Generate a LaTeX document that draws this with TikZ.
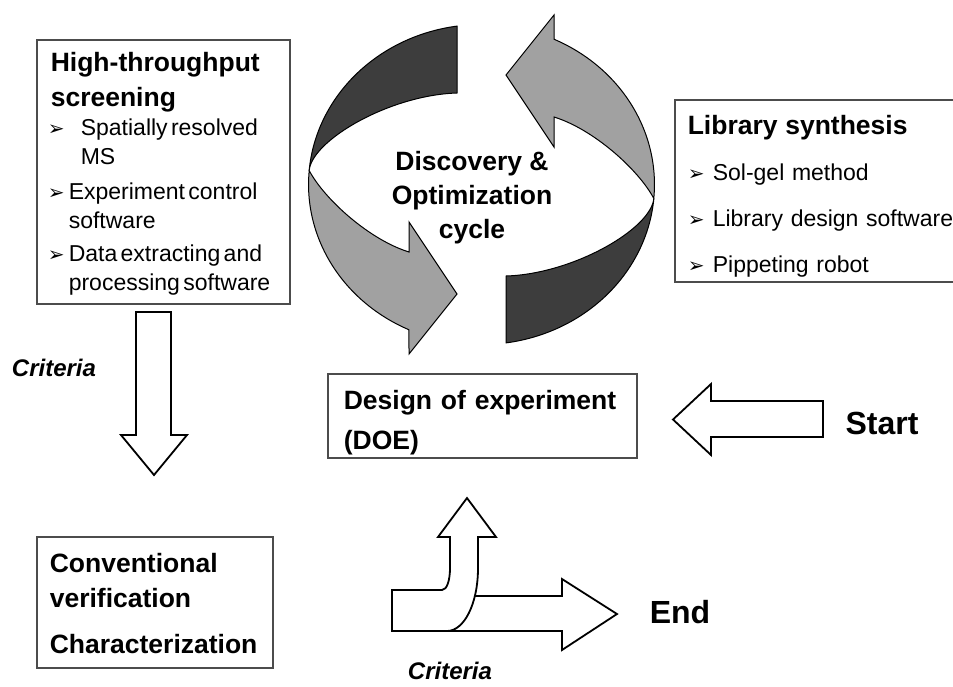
\documentclass[tikz,border=0pt]{standalone}
\usepackage{fontspec}
\setmainfont{Liberation Sans}
\newfontfamily\symfont{DejaVu Sans}
\newcommand{\headfont}{\fontsize{26.5}{35}\selectfont\bfseries}
\newcommand{\itemfont}{\fontsize{23}{29}\selectfont}
\newcommand{\bul}[1][21pt]{\makebox[#1][l]{\symfont\fontsize{20}{20}\selectfont ➢}}
\hyphenpenalty=10000

\begin{document}
\begin{tikzpicture}[x=1pt, y=-1pt,
  box/.style={draw=black!70, line width=1.6pt, anchor=north west, align=left, inner ysep=0pt},
  blockarrow/.style={draw, line width=1.8pt, fill=white, line join=miter},
  backside/.style={draw, line width=1pt, fill=black!76},
  frontside/.style={draw, line width=1pt, fill=black!37},
  tag/.style={font=\fontsize{32}{32}\selectfont\bfseries},
  crit/.style={font=\fontsize{24}{24}\selectfont\bfseries\itshape}
]
  \useasboundingbox (0,0) rectangle (953,686);
  \clip (0,0) rectangle (953,686);

  % Cycle arrows (second one is the first turned half way round)
  \foreach \r in {0,180}{
    \begin{scope}[rotate around={\r:(481.5,184.5)}]
      \draw[backside] (457,26.1) arc[start angle=261.86, end angle=185, x radius=173, y radius=160]
        .. controls (312,140) and (390,95) .. (457,93) -- cycle;
      \draw[frontside] (309.2,170.6) arc[start angle=185, end angle=114.8, x radius=173, y radius=160]
        -- (409,354) -- (457,294) -- (409,222) -- (409,252)
        .. controls (370,240) and (325,200) .. (309.2,170.6) -- cycle;
    \end{scope}
  }

  % Cycle label
  \node[font=\fontsize{26.5}{34}\selectfont\bfseries, align=center] (cyc) at (472,198)
    {Discovery \&\\Optimization\\cycle};

  % High-throughput screening
  \node[box, text width=231, inner xsep=11, text height=32, text depth=232] (hts) at (36,39)
    {{\headfont\hspace*{3pt}High-throughput\\\hspace*{3pt}screening\par}
     {\itemfont\bul[33pt]Spatially resolved\\\hspace*{33pt}MS\\[6pt]
      \bul Experiment control\\\hspace*{21pt}software\\[4pt]
      \bul Data extracting and\\\hspace*{21pt}processing software\par}};

  % Library synthesis
  \node[box, text width=290, inner xsep=13, text height=35, text depth=147,
        font=\fontsize{23}{46}\selectfont] (libsyn) at (674,99)
    {{\headfont Library synthesis}\\
     \bul[25pt]Sol-gel method\\
     \bul[25pt]Library design software\\
     \bul[25pt]Pippeting robot};

  % Design of experiment
  \node[box, text width=277, inner xsep=16, text height=36, text depth=48, font=\headfont] (doe) at (327,373)
    {Design of experiment\\[5pt](DOE)};

  % Conventional verification
  \node[box, text width=210, inner xsep=13, text height=36, text depth=95, font=\headfont] (verif) at (36,536)
    {Conventional\\verification\\[11pt]Characterization};

  % Labels
  \node[crit] (critL) at (54,368) {Criteria};
  \node[crit] (critB) at (450,671) {Criteria};
  \node[tag] (start) at (882,423) {Start};
  \node[tag] (finish) at (680,612) {End};

  % Block arrows
  \draw[blockarrow] (136,312) -- (171,312) -- (171,435) -- (187,435) -- (154,475)
    -- (121,435) -- (136,435) -- cycle;
  \draw[blockarrow] (823,401) -- (711,401) -- (711,384) -- (673,419.5) -- (711,455)
    -- (711,437) -- (823,437) -- cycle;
  \draw[blockarrow] (392,596) -- (562,596) -- (562,579) -- (617,614) -- (562,650)
    -- (562,631) -- (392,631) -- cycle;
  \draw[blockarrow] (392,590) -- (442,590) .. controls (447,590) and (450,580) .. (450,568)
    -- (450,537) -- (438,537) -- (467,498) -- (496,537) -- (478,537) -- (478,568)
    .. controls (478,604) and (464,631) .. (447,631) -- (392,631) -- cycle;
\end{tikzpicture}
\end{document}
